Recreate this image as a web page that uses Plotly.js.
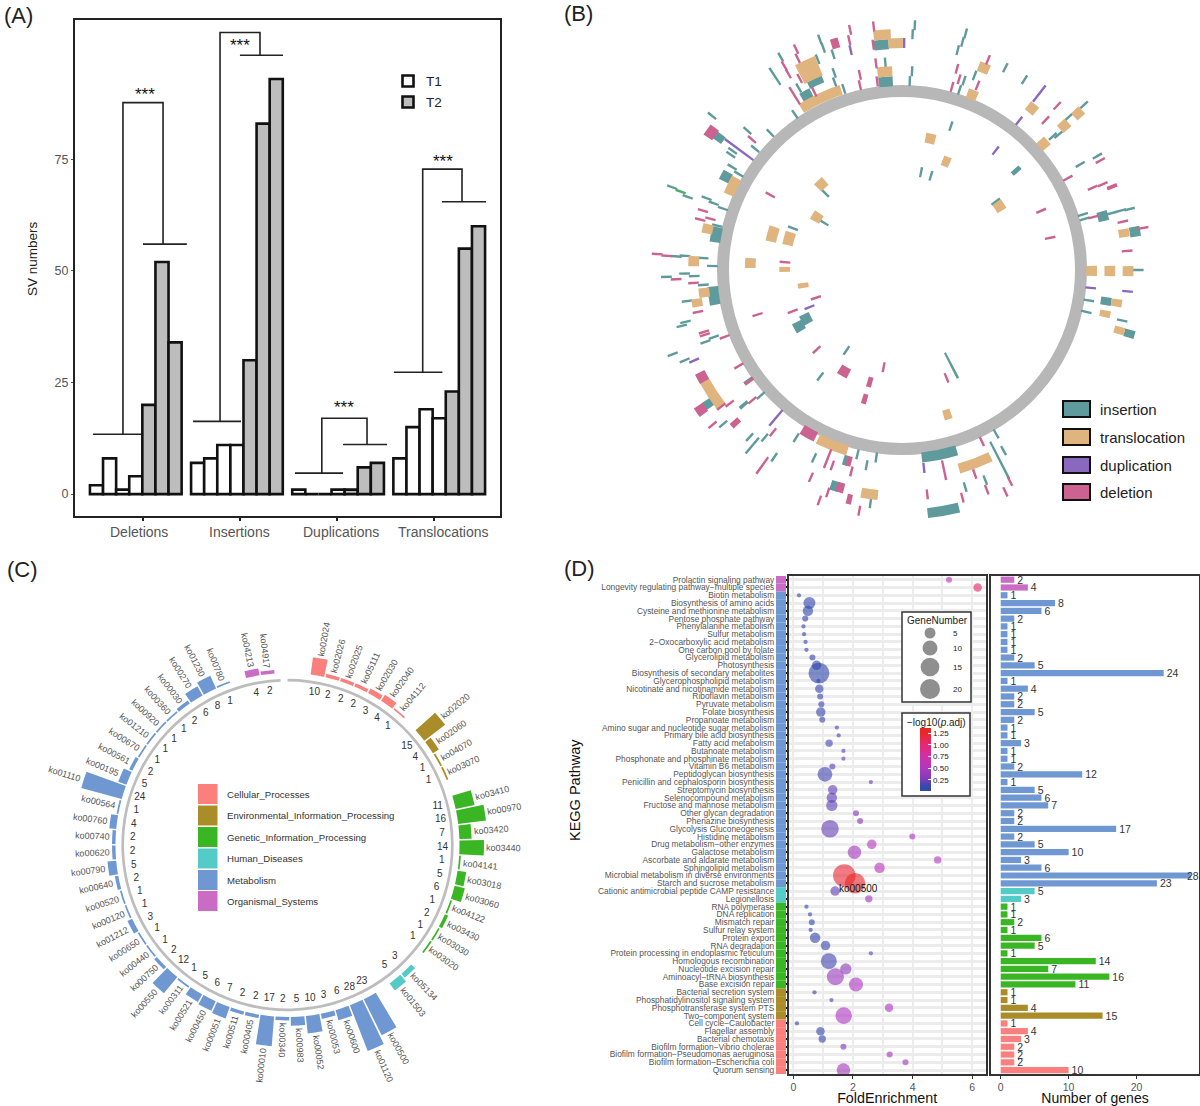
<!DOCTYPE html>
<html><head><meta charset="utf-8">
<script src="https://cdn.plot.ly/plotly-3.0.1.min.js"></script>
<style>html,body{margin:0;padding:0;background:#fff}#p{width:1200px;height:1106px}</style></head>
<body><div id="p"></div>
<script>
const W=1200,H=1106,FONT='"Liberation Sans",Arial,sans-serif';
const px=v=>v/W, py=v=>1-v/H;

/* ---------- Panel A ---------- */
const svGroups=['Deletions','Insertions','Duplications','Translocations'];
const t1Values=[[2,8,1,4],[7,8,11,11],[1,0,0,1],[8,15,19,17]];
const t2Values=[[20,52,34],[30,83,93],[1,6,7],[23,55,60]];
const svTicks=[0,25,50,75];
// lower bar, left leg x, top y, right leg x, upper bar (x0,x1,y,legX,topY,legX2,y2,x0,x1)
const brackets=[
 [-0.27,3.40,13.4,2.02,87.7,5.08,56,3.55,6.9],
 [7.37,11.03,16.3,9.43,103.4,12.48,98.3,10.95,14.24],
 [15.15,18.82,4.7,17.2,17,20.65,11.1,18.82,22.18],
 [22.7,26.4,27.3,24.9,72.8,27.9,65.5,26.37,29.73]];
const starX=[3.7,10.95,18.9,26.45], starY=[90,101,19.8,75];
const svLabelX=[3.24,10.88,18.66,26.45], svTickX=[3.55,10.95,18.36,25.76];
const groupStep=7.72;

/* ---------- Panel B ---------- */
// [angle deg clockwise from top, track radius, angular width (0 = hairline), radial height]
const insertion=[[2.2,189],[2.7,199],[2.4,236],[2.8,245],[-4.6,189,4],[-4.3,208],[-4.9,226,3.5],[-16.7,189],[-18.5,198],[-17.8,207],[-16.6,225],[-18.3,234],[-18.4,243],[-27,196,3.1],[-23.2,206,4.2],[-20.5,225],[-27.9,206],[-32.7,185],[-28,241],[-31.5,227,0,20],[-41.9,184],[-48.5,183],[-46,200.6],[-49,235],[-52.2,216,2.1],[-53,198],[-54.2,197],[-57.8,180],[-57,189],[-60.4,189,3],[-68.9,230],[-69.9,213],[-68.5,196],[-69.2,188],[-69.8,178],[-75.6,178],[-78.5,177,4.9],[-86.3,211],[-86,203],[-86.3,186],[-88.7,177],[-91.8,220],[-91,203],[-91.8,194],[-94.6,186],[-98.3,177.5,5.9],[-98.8,203],[-104.4,208.6],[-105.2,213],[-111.4,197],[-110.9,188],[-111.5,230],[-114,222],[-126.5,224.5,2.1],[-132.4,200,1],[-133.6,182],[-127.5,181],[-132.7,227],[-139.6,219.5],[-141.5,224.5,0,20],[-142.6,211],[-149.5,194.6],[-147.5,222],[-156.4,205],[-164.6,197.5,1.4],[-167.3,189],[-172.7,189],[-170.4,198],[-163.8,225,2],[-172.8,235],[169.3,188,10.2],[170.9,244,7],[164.8,225],[159.7,224],[154.4,211,0,41],[152.3,204],[151.8,186],[99.9,177],[103.7,177],[99.3,193,2.4],[103.8,211.6],[106.7,221.6,2],[90,220.5],[80,220.8,2.6],[71.8,177.7],[73.3,178],[74,195,2.9],[73.8,204],[73.8,213],[74,221],[57.6,197],[58,215],[46.5,194],[47.2,199],[45.5,218],[45.8,237],[31,222],[25.5,224],[19.2,206],[16.6,188],[17,198],[13.3,226],[13.9,235],[14.1,244],
 [17.6,151],[10.3,99.4],[16,98],[47,145.7,1.8],[52,111],[-43,105],[-57,87],[-67.7,110],[-118.6,102,5.6],[-120.4,111.5,5],[-147.2,95.7],[-144.4,131],[154.2,106,0,28]];
const translocation=[[-4.6,199,4],[-4.5,236,3.9],[-1.5,227,3.4],[-23.8,188,12.7],[-23.4,218,5.2,21],[-62.1,179,5.8],[-77.2,186,2.9],[-87.4,194.6,3],[-97,186,2.9],[-99.7,194,2.4],[-125,216,8],[-159.7,187,9.2],[-172.3,226,4],[160.6,205,8.9],[99.3,203,2.1],[103,194.5,2],[106.6,211.7,2],[90.3,177,3.2],[90.3,194,3],[90.3,211,2.7],[79.9,210.4,2.2],[46.3,182.7,3.1],[46.4,209,2.7],[46.4,227,2.4],[36.9,202,2.8],[20.5,187,3],[20.7,216,2.8],
 [11.4,134,4],[20.8,116,3.6],[55,111,5],[-41.3,114,5],[-56.4,95.4,5.6],[-73.5,126,6.8],[-73.5,110,6.9],[-87.2,141.7,4],[-89.7,109.5,2.6],[-99.5,93.5,3],[163.7,150.5,2.8]];
const duplication=[[0.5,227],[-12.3,225],[-51.6,194,0,34],[-115,214],[-141.5,189,0,20],[174.1,199],[95.8,177],[95.8,211.6],[36.2,185],[36,218,0,20],[36.2,148],[-113.3,94]];
const deletion=[[-7,190],[-6.7,208],[-6.8,227],[-6.2,245],[-12,189],[-11.4,199],[-12.1,235],[-11.4,245],[-15.4,235,1.8],[-24.7,196],[-26.5,214],[-24.1,242],[-24.7,233],[-29.9,201,0,20],[-28.4,223],[-28.3,232],[-47,191.5],[-52.3,225,3],[-72.3,195],[-75,195],[-74,186],[-86,229],[-86.3,220],[-92.5,211],[-93.8,195],[-102.4,195],[-108.5,195],[-109.4,195],[-112,178.5],[-122.2,180],[-119.8,215,2.7],[-126.7,234,2.4],[-129,217],[-129.7,209],[-133,191],[-128,181,1],[-134.5,218,1.5],[-131.2,235],[-143.4,202],[-152,185,4.6],[-146.3,235,0,20],[-159.8,201,0,20],[-161.6,206],[-165.5,197.5,1.4],[-166.8,207],[-157.7,224],[-165.2,225,1.8],[-162.7,233],[-161.5,243],[-167.9,234.5,1.2],[-170.6,244],[168.9,204,0,20],[174,225.5],[166.1,234.5],[161.6,215],[160.2,233.5],[156.5,187],[154.5,234],[156.5,242],[84.8,211],[79.4,229],[76.8,211.7],[73.5,186.5],[59.3,180],[65.2,196],[65.4,206],[67,213,1],[59.4,215],[41.8,201],[41.4,219],[20.9,197.5],[20.9,225],[14.3,189],[15.6,198],[14.3,207.6],
 [65.5,142.7],[76.9,142],[-58.6,144],[-85.9,109.5],[-109.1,85],[-112,110],[-108.3,142],[-135,112.7],[-152,115,5],[-170,98.7],[-165,116,2.3],[-164.9,133.5,2],[158.9,115.5]];
const unclassified=[[-69.2,221]];
const svTypes=['insertion','translocation','duplication','deletion'];
const svColors=['#5f9a9c','#dfb47f','#8a68bf','#cc6290'];

/* ---------- Panel C / D shared ---------- */
const koClasses=['Cellular_Processes','Environmental_Information_Processing','Genetic_Information_Processing','Human_Diseases','Metabolism','Organismal_Systems'];
const classColors=['#fb7f7c','#aa8c28','#3ab523','#55cbc8','#6f98d2','#cb6cc4'];
const koCellular=['ko02024','ko02026','ko02025','ko05111','ko02030','ko02040','ko04112'];
const nCellular=[10,2,2,2,3,4,1];
const koEnv=['ko02020','ko02060','ko04070','ko03070'];
const nEnv=[15,4,1,1];
const koGenetic=['ko03410','ko00970','ko03420','ko03440','ko04141','ko03018','ko03060','ko04122','ko03430','ko03030','ko03020'];
const nGenetic=[11,16,7,14,1,5,6,1,2,1,1];
const koHuman=['ko05134','ko01503'];
const nHuman=[3,5];
const koMetabolism=['ko00500','ko01120','ko00600','ko00053','ko00052','ko00983','ko00340','ko00010','ko00405','ko00511','ko00051','ko00450','ko00521','ko00311','ko00550','ko00750','ko00440','ko00650','ko01212','ko00120','ko00520','ko00640','ko00790','ko00620','ko00740','ko00760','ko00564','ko01110','ko00195','ko00561','ko00670','ko01210','ko00920','ko00360','ko00030','ko00270','ko01230','ko00780'];
const nMetabolism=[23,28,6,3,10,5,2,17,2,2,7,6,5,1,12,2,1,1,3,1,1,2,5,2,2,4,1,24,5,2,1,1,1,1,2,6,8,1];
const koOrganismal=['ko04213','ko04917'];
const nOrganismal=[4,2];

const pathways=['Prolactin signaling pathway','Longevity regulating pathway−multiple species','Biotin metabolism','Biosynthesis of amino acids','Cysteine and methionine metabolism','Pentose phosphate pathway','Phenylalanine metabolism','Sulfur metabolism','2−Oxocarboxylic acid metabolism','One carbon pool by folate','Glycerolipid metabolism','Photosynthesis','Biosynthesis of secondary metabolites','Glycerophospholipid metabolism','Nicotinate and nicotinamide metabolism','Riboflavin metabolism','Pyruvate metabolism','Folate biosynthesis','Propanoate metabolism','Amino sugar and nucleotide sugar metabolism','Primary bile acid biosynthesis','Fatty acid metabolism','Butanoate metabolism','Phosphonate and phosphinate metabolism','Vitamin B6 metabolism','Peptidoglycan biosynthesis','Penicillin and cephalosporin biosynthesis','Streptomycin biosynthesis','Selenocompound metabolism','Fructose and mannose metabolism','Other glycan degradation','Phenazine biosynthesis','Glycolysis Gluconeogenesis','Histidine metabolism','Drug metabolism−other enzymes','Galactose metabolism','Ascorbate and aldarate metabolism','Sphingolipid metabolism','Microbial metabolism in diverse environments','Starch and sucrose metabolism','Cationic antimicrobial peptide CAMP resistance','Legionellosis','RNA polymerase','DNA replication','Mismatch repair','Sulfur relay system','Protein export','RNA degradation','Protein processing in endoplasmic reticulum','Homologous recombination','Nucleotide excision repair','Aminoacyl−tRNA biosynthesis','Base excision repair','Bacterial secretion system','Phosphatidylinositol signaling system','Phosphotransferase system PTS','Two−component system','Cell cycle−Caulobacter','Flagellar assembly','Bacterial chemotaxis','Biofilm formation−Vibrio cholerae','Biofilm formation−Pseudomonas aeruginosa','Biofilm formation−Escherichia coli','Quorum sensing'];
const pathwayClass=[5,5,4,4,4,4,4,4,4,4,4,4,4,4,4,4,4,4,4,4,4,4,4,4,4,4,4,4,4,4,4,4,4,4,4,4,4,4,4,4,3,3,2,2,2,2,2,2,2,2,2,2,2,1,1,1,1,0,0,0,0,0,0,0];
const geneCount=[2,4,1,8,6,2,1,1,1,1,2,5,24,1,4,2,2,5,2,1,1,3,1,1,2,12,1,5,6,7,2,2,17,2,5,10,3,6,28,23,5,3,1,1,2,1,6,5,1,14,7,16,11,1,1,4,15,1,4,3,2,2,2,10];
const foldEnrichment=[5.22,6.18,0.19,0.54,0.49,0.40,0.34,0.36,0.41,0.44,0.64,0.78,0.86,0.84,0.87,0.90,0.94,0.92,0.97,1.46,1.52,1.2,1.68,1.68,1.31,1.06,2.6,1.32,1.29,1.29,2.1,2.24,1.23,3.99,2.63,2.05,4.84,2.89,1.71,2.07,1.4,2.53,0.44,0.56,0.62,0.58,0.73,1.08,2.6,1.19,1.76,1.41,2.1,0.71,1.28,3.21,1.69,0.12,0.91,0.97,1.68,3.23,3.76,1.68];
const negLogP=[0.6,1.05,0.06,0.05,0.03,0.05,0.05,0.05,0.05,0.05,0.08,0.06,0.05,0.1,0.1,0.12,0.12,0.12,0.15,0.17,0.17,0.17,0.2,0.2,0.2,0.15,0.22,0.2,0.2,0.2,0.28,0.3,0.22,0.5,0.55,0.45,0.55,0.58,1.2,1.3,0.22,0.45,0.06,0.06,0.06,0.06,0.05,0.12,0.2,0.15,0.33,0.4,0.5,0.1,0.18,0.5,0.5,0.06,0.06,0.08,0.28,0.45,0.45,0.45];
const legendGenes=['5','10','15','20'], legendGeneSize=[11,15,18.7,20];

/* ---------- traces ---------- */
const traces=[], shapes=[], ann=[];
const text=(s,x,y,size,o={})=>ann.push(Object.assign({text:s,x,y,xref:'x5',yref:'y5',showarrow:false,font:{family:FONT,size,color:o.color||'#222'},xanchor:o.xanchor||'left',yanchor:'middle'},o.extra||{}));

// A
const groupX=g=>g*groupStep;
let t1x=[],t1y=[],t2x=[],t2y=[];
svGroups.forEach((g,i)=>{
  t1Values[i].forEach((v,j)=>{t1x.push(groupX(i)+j);t1y.push(v)});
  t2Values[i].forEach((v,j)=>{t2x.push(groupX(i)+4+j);t2y.push(v)});
});
const barLine={color:'#111',width:2.6};
traces.push({type:'bar',x:t1x,y:t1y,width:1,name:'T1',xaxis:'x',yaxis:'y',marker:{color:'#fff',line:barLine},hoverinfo:'y'});
traces.push({type:'bar',x:t2x,y:t2y,width:1,name:'T2',xaxis:'x',yaxis:'y',marker:{color:'#bdbdbd',line:barLine},hoverinfo:'y'});
let bx=[],by=[];
brackets.forEach(b=>{
  bx.push(b[0],b[1],null,b[3],b[3],b[5],b[5],null,b[7],b[8],null);
  by.push(b[2],b[2],null,b[2],b[4],b[4],b[6],null,b[6],b[6],null);
});
traces.push({type:'scatter',mode:'lines',x:bx,y:by,xaxis:'x',yaxis:'y',line:{color:'#222',width:1.6},hoverinfo:'skip',connectgaps:false});
starX.forEach((x,i)=>ann.push({text:'***',x,y:starY[i],xref:'x',yref:'y',showarrow:false,font:{family:FONT,size:17,color:'#111'},yanchor:'middle',yshift:-2}));
svGroups.forEach((g,i)=>ann.push({text:g,x:svLabelX[i],y:py(532),xref:'x',yref:'paper',showarrow:false,font:{family:FONT,size:14,color:'#555'},yanchor:'middle'}));
text('SV numbers',32,259,13.5,{xanchor:'center',extra:{textangle:-90}});
traces.push({type:'scatter',mode:'markers',x:[408,408],y:[81,102],xaxis:'x5',yaxis:'y5',hoverinfo:'skip',marker:{symbol:'square',size:11,color:['#fff','#bdbdbd'],line:{color:'#111',width:2.6}}});
text('T1',424,81,13.5); text('T2',424,102,13.5);

// B : the angles/radii above were read on a crop stretched by 3/2.8 horizontally, undone here
const K=3/2.8, DEG=Math.PI/180;
const unstretch=(t,r)=>{const x=r*Math.sin(t*DEG)*K,y=r*Math.cos(t*DEG);return {t:Math.atan2(x,y)/DEG,r:Math.hypot(x,y)}};
const tiles=(list,name,color)=>{
  const th=[],base=[],h=[],wd=[];
  list.forEach(s=>{
    const a=s[0],r=s[1],w=s[2]||0,hh=s[3]||10;
    const mid=unstretch(a,r),i=unstretch(a,r-hh/2),o=unstretch(a,r+hh/2);
    th.push(mid.t);base.push(i.r);h.push(o.r-i.r);
    if(w){const l=unstretch(a-w/2,r),u=unstretch(a+w/2,r);wd.push(Math.abs(u.t-l.t));}
    else wd.push(2.4/mid.r/DEG);
  });
  return {type:'barpolar',subplot:'polar',theta:th,base,r:h,width:wd,name,marker:{color,line:{width:0}},hoverinfo:'name'};
};
traces.push({type:'barpolar',subplot:'polar',theta:[180],width:[359.99],base:[173],r:[12],marker:{color:'#b7b7b7',line:{width:0}},hoverinfo:'skip'});
traces.push(tiles(insertion,svTypes[0],svColors[0]),tiles(translocation,svTypes[1],svColors[1]),tiles(duplication,svTypes[2],svColors[2]),tiles(deletion,svTypes[3],svColors[3]),tiles(unclassified,'other','#4fae6b'));
const bRows=[409,437,465,492];
svTypes.forEach((s,i)=>{
  shapes.push({type:'rect',xref:'x5',yref:'y5',x0:1063,x1:1090,y0:bRows[i]-8,y1:bRows[i]+8,fillcolor:svColors[i],line:{color:'#111',width:2}});
  text(s,1098,bRows[i],15,{color:'#222'});
});

// C
const PER=1.75, C_CX=287.5, C_CY=845, BASE=172, STEP=5.05;
const sectors=[[koCellular,nCellular,0],[koEnv,nEnv,1],[koGenetic,nGenetic,2],[koHuman,nHuman,3],[koMetabolism,nMetabolism,4],[koOrganismal,nOrganismal,5]];
let slot=0; const cT=[],cN=[],cC=[],cK=[];
sectors.forEach(([ko,n,c])=>{ko.forEach((k,i)=>{cT.push(10+STEP*slot);cN.push(n[i]);cC.push(classColors[c]);cK.push(k);slot++;});slot++;});
traces.push({type:'barpolar',subplot:'polar2',theta:[178.8],width:[357.6],base:[93.4],r:[1.55],marker:{color:'#bdbdbd',line:{width:0}},hoverinfo:'skip'});
traces.push({type:'barpolar',subplot:'polar2',theta:cT,r:cN,base:cN.map(()=>BASE/PER),width:cN.map(()=>4.55),marker:{color:cC,line:{width:0}},hoverinfo:'r+text',hovertext:cK});
traces.push({type:'scatterpolar',subplot:'polar2',mode:'text',theta:cT,r:cN.map(()=>155/PER),text:cN.map(String),textfont:{family:FONT,size:10,color:'#333'},hoverinfo:'skip'});
cK.forEach((k,i)=>{
  const t=cT[i], R=BASE+cN[i]*PER+3+17, right=t<184;
  ann.push({text:k,xref:'x5',yref:'y5',x:C_CX+R*Math.sin(t*DEG),y:C_CY-R*Math.cos(t*DEG),showarrow:false,textangle:right?t-90:t-270,font:{family:FONT,size:9,color:'#555'},xanchor:'center',yanchor:'middle'});
});
const cRows=[794,815.5,837,858.5,880,901];
koClasses.forEach((s,i)=>{
  shapes.push({type:'rect',xref:'x5',yref:'y5',x0:198,x1:217.5,y0:cRows[i]-10,y1:cRows[i]+10,fillcolor:classColors[i],line:{width:0}});
  text(s,225,cRows[i],9.6,{color:'#333'});
});

// D
const rowColors=pathwayClass.map(c=>classColors[c]);
traces.push({type:'bar',orientation:'h',x:pathways.map(()=>1),y:pathways,width:1,xaxis:'x4',yaxis:'y4',marker:{color:rowColors,line:{width:0}},hoverinfo:'skip'});
traces.push({type:'scatter',mode:'markers',x:foldEnrichment,y:pathways,xaxis:'x2',yaxis:'y2',hoverinfo:'x+y',
 marker:{size:geneCount,sizemode:'area',sizeref:0.11,opacity:0.62,line:{width:0},color:negLogP,cmin:0.01,cmax:1.36,
  colorscale:[[0,'#2b4aa8'],[0.1,'#4046b0'],[0.18,'#7a3db8'],[0.37,'#b038c0'],[0.55,'#d030a8'],[0.74,'#e82870'],[0.92,'#e82828'],[1,'#e82828']],
  colorbar:{x:px(920),xanchor:'left',y:py(791),yanchor:'bottom',lenmode:'pixels',len:63,thicknessmode:'pixels',thickness:11,xpad:0,ypad:0,outlinewidth:0,borderwidth:0,
   tickmode:'array',tickvals:[0.25,0.5,0.75,1,1.25],ticktext:['0.25','0.50','0.75','1.00','1.25'],tickfont:{family:FONT,size:8,color:'#222'},ticks:'inside',ticklen:3,tickcolor:'#fff'}}});
traces.push({type:'bar',orientation:'h',x:geneCount,y:pathways,width:0.8,xaxis:'x3',yaxis:'y3',marker:{color:rowColors,line:{width:0}},
 text:geneCount.map(v=>v<28?String(v):''),textposition:'outside',constraintext:'none',cliponaxis:false,textfont:{family:FONT,size:10.5,color:'#333'},hoverinfo:'x+y'});
// the longest bar's count sits on the frame rather than past it
geneCount.forEach((v,i)=>{ if(v>=28) ann.push({text:String(v),x:v,y:pathways[i],xref:'x3',yref:'y3',xanchor:'left',xshift:-6,yanchor:'middle',showarrow:false,font:{family:FONT,size:10.5,color:'#333'}}); });
shapes.push({type:'rect',layer:'below',xref:'x5',yref:'y5',x0:902,x1:971,y0:612,y1:702,fillcolor:'#fff',line:{color:'#333',width:1.5}});
shapes.push({type:'rect',layer:'below',xref:'x5',yref:'y5',x0:902,x1:970,y0:713,y1:796,fillcolor:'#fff',line:{color:'#333',width:1.5}});
traces.push({type:'scatter',mode:'markers',x:[930,930,930,930],y:[633,648,667,689],xaxis:'x5',yaxis:'y5',hoverinfo:'skip',marker:{size:legendGeneSize,color:'#5f5f5f',line:{width:0}}});
text('GeneNumber',937,620,10,{xanchor:'center'});
legendGenes.forEach((s,i)=>text(s,950.5,[633,648,667,689][i],8,{}));
text('−log10(<i>p</i>.adj)',936,722,10,{xanchor:'center'});
text('ko00500',858,888,10,{xanchor:'center',color:'#111'});
text('KEGG Pathway',575,790,14.5,{xanchor:'center',color:'#111',extra:{textangle:-90}});

// panel letters
[['(A)',2,15],['(B)',562,13],['(C)',5,569],['(D)',562,568]].forEach(l=>text(l[0],l[1],l[2],22,{color:'#222'}));

const frame={showline:true,mirror:true,linecolor:'#333',zeroline:false,showgrid:false};
const rowRange=[63.5,-0.475];
const dDom=[py(1074),py(576)];
const layout={width:W,height:H,margin:{l:0,r:0,t:0,b:0,pad:0},paper_bgcolor:'#fff',plot_bgcolor:'rgba(0,0,0,0)',showlegend:false,font:{family:FONT},barmode:'overlay',shapes,annotations:ann,
 xaxis:Object.assign({},frame,{anchor:'y',domain:[px(75),px(500)],range:[-1.64,30.8],linewidth:2.2,linecolor:'#222',tickmode:'array',tickvals:svTickX,ticktext:['','','',''],ticks:'outside',ticklen:3,tickwidth:1.6,tickcolor:'#222'}),
 yaxis:Object.assign({},frame,{anchor:'x',domain:[py(516),py(20)],range:[-4.9,106.2],linewidth:2.2,linecolor:'#222',tickmode:'array',tickvals:svTicks,ticks:'outside',ticklen:2,tickwidth:1,tickcolor:'#555',tickfont:{family:FONT,size:12.5,color:'#555'}}),
 xaxis2:Object.assign({},frame,{anchor:'y2',domain:[px(788.7),px(985.7)],range:[-0.155,6.45],linewidth:1.5,tickmode:'linear',tick0:0,dtick:2,ticks:'outside',ticklen:3,tickcolor:'#333',tickfont:{family:FONT,size:10.5,color:'#555'},showgrid:true,gridcolor:'#ececec',gridwidth:2,minor:{dtick:1,tick0:0,showgrid:true,gridcolor:'#ececec',gridwidth:2,ticks:''},title:{text:'FoldEnrichment',font:{family:FONT,size:14.3,color:'#111'},standoff:6}}),
 yaxis2:Object.assign({},frame,{anchor:'x2',domain:dDom,type:'category',categoryorder:'array',categoryarray:pathways,range:rowRange,linewidth:1.5,tickmode:'array',tickvals:pathways,ticktext:pathways,ticks:'outside',ticklen:3,tickwidth:2,tickcolor:'#111',ticklabelstandoff:8,tickfont:{family:FONT,size:8.4,color:'#555'},showgrid:true,gridcolor:'#ececec',gridwidth:3}),
 xaxis3:Object.assign({},frame,{anchor:'y3',domain:[px(991),px(1199)],range:[-1.43,29.2],linewidth:1.5,tickmode:'array',tickvals:[0,10,20],ticks:'outside',ticklen:3,tickcolor:'#333',tickfont:{family:FONT,size:10.5,color:'#555'},title:{text:'Number of genes',font:{family:FONT,size:14,color:'#111'},standoff:6}}),
 yaxis3:Object.assign({},frame,{anchor:'x3',domain:dDom,type:'category',categoryorder:'array',categoryarray:pathways,range:rowRange,linewidth:1.5,showticklabels:false,ticks:''}),
 xaxis4:{anchor:'y4',domain:[px(776),px(786)],range:[0,1],visible:false,fixedrange:true},
 yaxis4:{anchor:'x4',domain:dDom,type:'category',categoryorder:'array',categoryarray:pathways,range:rowRange,visible:false,fixedrange:true},
 xaxis5:{anchor:'y5',domain:[0,1],range:[0,W],visible:false,fixedrange:true},
 yaxis5:{anchor:'x5',domain:[0,1],range:[H,0],visible:false,fixedrange:true},
 polar:{domain:{x:[px(902-262),px(902+262)],y:[py(270+262),py(270-262)]},bgcolor:'rgba(0,0,0,0)',barmode:'overlay',radialaxis:{visible:false,range:[0,262]},angularaxis:{visible:false,direction:'clockwise',rotation:90}},
 polar2:{domain:{x:[px(C_CX-225),px(C_CX+225)],y:[py(C_CY+225),py(C_CY-225)]},bgcolor:'rgba(0,0,0,0)',barmode:'overlay',radialaxis:{visible:false,range:[0,225/PER]},angularaxis:{visible:false,direction:'clockwise',rotation:90}}
};
Plotly.newPlot('p',traces,layout,{displayModeBar:false,responsive:false});
</script></body></html>
